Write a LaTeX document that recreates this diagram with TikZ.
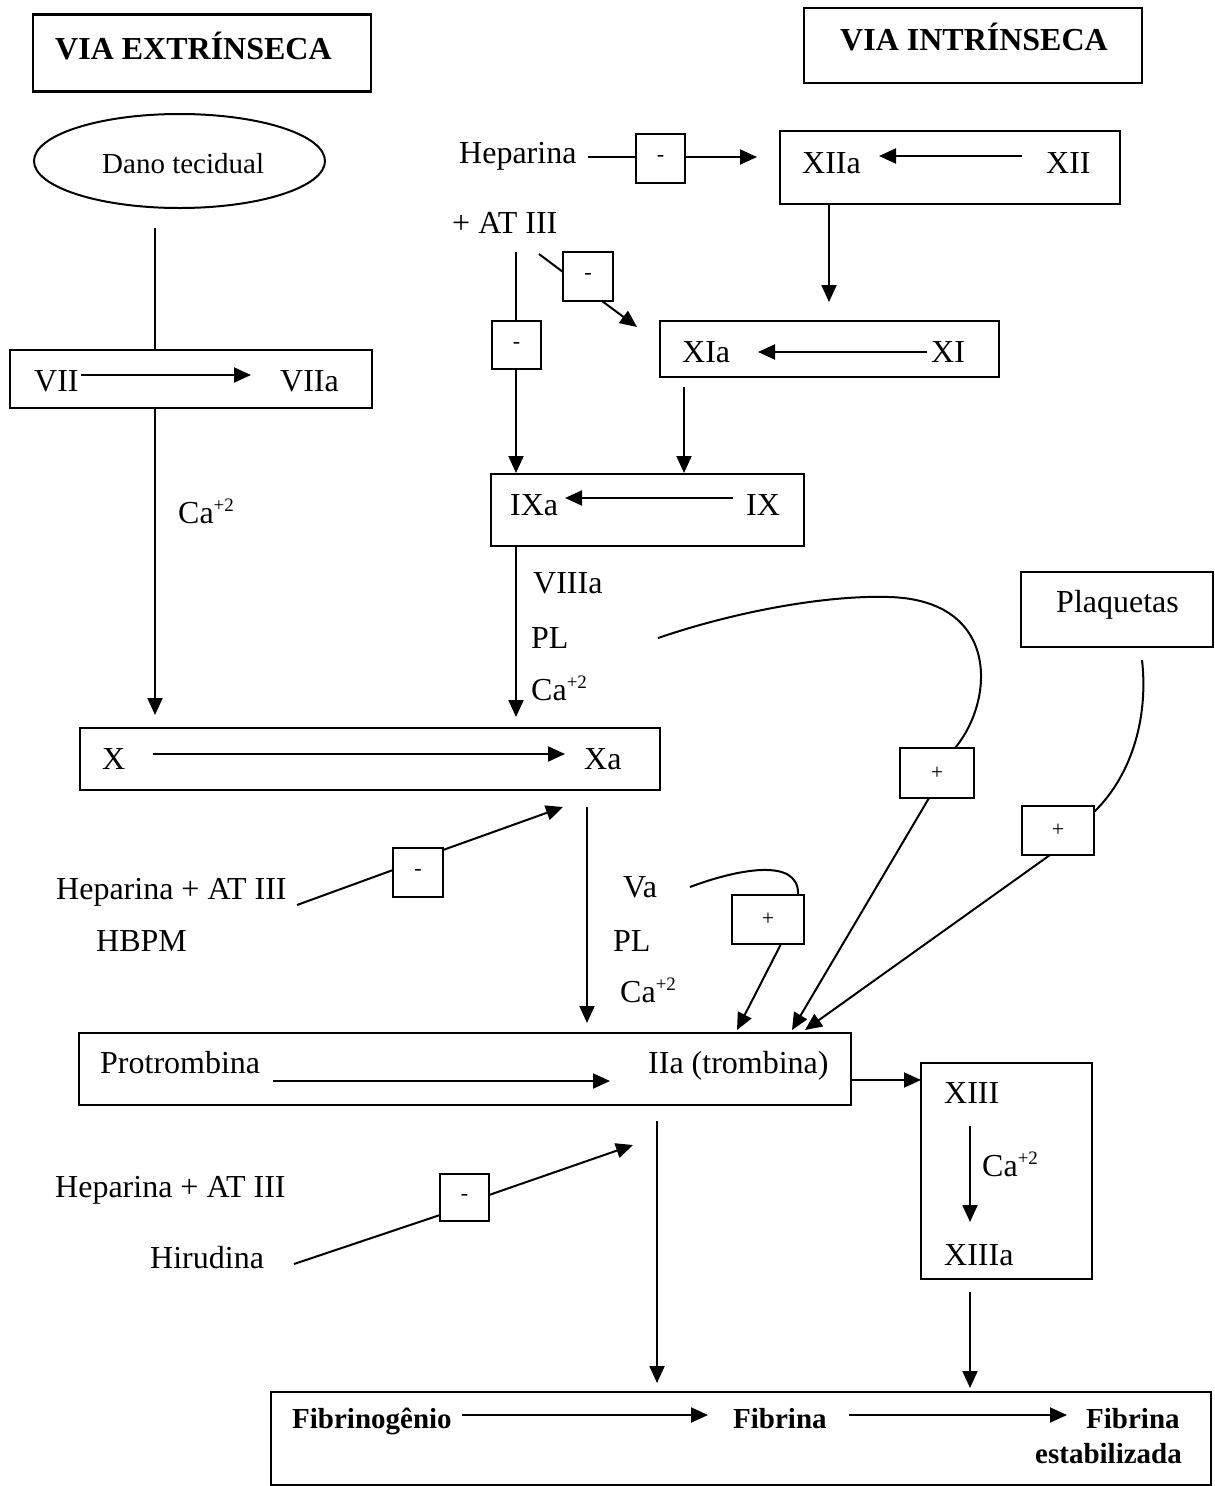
\documentclass[tikz,border=0pt]{standalone}
\usepackage{fontspec}
\setmainfont{Liberation Serif}
\usetikzlibrary{arrows.meta,shapes.geometric}

% calcium ion with its charge as a raised index
\newcommand\caion{Ca\raisebox{12pt}{\fontsize{19}{19}\selectfont +2}}

\begin{document}
\begin{tikzpicture}[x=1pt,y=-1pt,
  box/.style={draw, rectangle, line width=2.2pt, inner sep=0pt},
  signbox/.style={box, font=\fontsize{22}{24}\selectfont},
  conn/.style={line width=2pt},
  arr/.style={conn, -{Triangle[length=17pt,width=15pt]}},
  lbl/.style={inner sep=0pt, anchor=base west, font=\fontsize{32}{38}\selectfont},
  head/.style={lbl, font=\fontsize{32}{38}\selectfont\bfseries},
  bot/.style={lbl, font=\fontsize{29}{34}\selectfont\bfseries}]
\useasboundingbox (0,0) rectangle (1215,1486);

% ---------- headings ----------
\node[box, minimum width=338pt, minimum height=77pt] (extbox) at (202,53) {};
\node[head] (exttxt) at (55,59) {VIA EXTRÍNSECA};
\node[box, minimum width=338pt, minimum height=75pt] (intbox) at (973,45.5) {};
\node[head] (inttxt) at (840,50) {VIA INTRÍNSECA};

% ---------- extrinsic pathway ----------
\node[draw, ellipse, line width=2pt, minimum width=291pt, minimum height=94pt] (dano) at (179.5,161) {};
\node[lbl, font=\fontsize{29}{34}\selectfont] (danotxt) at (102,173) {Dano tecidual};

\node[box, minimum width=362pt, minimum height=58pt] (viibox) at (191,379) {};
\node[lbl] (vii) at (34,391) {VII};
\node[lbl] (viia) at (280,391) {VIIa};
\coordinate (viiA) at (81,375);
\coordinate (viiB) at (251,375);
\draw[arr] (viiA) -- (viiB);

\coordinate (d1) at (155,228);
\draw[conn] (d1) -- (d1 |- viibox.north);

\coordinate (v1) at (155,408);
\coordinate (v2) at (155,715);
\draw[arr] (v1) -- (v2);
\node[lbl] (ca1) at (178,523) {\caion};

\node[box, minimum width=580pt, minimum height=62pt] (xbox) at (370,759) {};
\node[lbl] (x) at (102,769) {X};
\node[lbl] (xa) at (584,769) {Xa};
\coordinate (xA) at (153,754);
\coordinate (xB) at (565,754);
\draw[arr] (xA) -- (xB);

% ---------- intrinsic pathway ----------
\node[lbl] (hep1) at (459,163) {Heparina};
\node[lbl] (at1) at (452,233) {+ AT III};
\node[signbox, minimum width=49pt, minimum height=49pt] (m1) at (660.5,158.5) {-};
\coordinate (h1) at (588,157);
\draw[conn] (h1) -- (h1 -| m1.west);
\coordinate (h2) at (757,157);
\draw[arr] (m1.east |- h2) -- (h2);

\node[box, minimum width=340pt, minimum height=73pt] (xiibox) at (950,167.5) {};
\node[lbl] (xiia) at (802,173) {XIIa};
\node[lbl] (xii) at (1046,173) {XII};
\coordinate (xiiA) at (1022,156);
\coordinate (xiiB) at (879,156);
\draw[arr] (xiiA) -- (xiiB);

\coordinate (xii1) at (829,302);
\draw[arr] (xii1 |- xiibox.south) -- (xii1);

\node[box, minimum width=339pt, minimum height=56pt] (xibox) at (829.5,349) {};
\node[lbl] (xia) at (682,362) {XIa};
\node[lbl] (xi) at (931,362) {XI};
\coordinate (xiA) at (927,352);
\coordinate (xiB) at (758,352);
\draw[arr] (xiA) -- (xiB);

\coordinate (xi1) at (684,387);
\coordinate (xi2) at (684,473);
\draw[arr] (xi1) -- (xi2);

% antithrombin inhibition of XI and IX activation
\node[signbox, minimum width=49pt, minimum height=48pt] (m2) at (516.5,345) {-};
\coordinate (a1) at (516,252);
\coordinate (a2) at (516,473);
\draw[conn] (a1) -- (a1 |- m2.north);
\draw[arr] (a2 |- m2.south) -- (a2);

\node[signbox, minimum width=50pt, minimum height=49pt] (m3) at (588,276.5) {-};
\coordinate (b1) at (539,254);
\coordinate (b2) at (563,272);
\coordinate (b3) at (602,301);
\coordinate (b4) at (637,327);
\draw[conn] (b1) -- (b2);
\draw[arr] (b3) -- (b4);

\node[box, minimum width=313pt, minimum height=72pt] (ixbox) at (647.5,510) {};
\node[lbl] (ixa) at (510,515) {IXa};
\node[lbl] (ix) at (746,515) {IX};
\coordinate (ixA) at (733,498);
\coordinate (ixB) at (565,498);
\draw[arr] (ixA) -- (ixB);

\coordinate (ix1) at (516,717);
\draw[arr] (ix1 |- ixbox.south) -- (ix1);
\node[lbl] (viiia) at (533,593) {VIIIa};
\node[lbl] (pl1) at (531,648) {PL};
\node[lbl] (ca2) at (531,700) {\caion};

% ---------- platelets and positive feedback ----------
\node[box, minimum width=192pt, minimum height=75pt] (plaq) at (1117,609.5) {};
\node[lbl] (plaqtxt) at (1056,612) {Plaquetas};

\node[signbox, minimum width=74pt, minimum height=50pt] (p1) at (937,773) {+};
\node[signbox, minimum width=72pt, minimum height=49pt] (p2) at (1058,830.5) {+};
\node[signbox, minimum width=72pt, minimum height=49pt] (p3) at (768,919.5) {+};

\coordinate (c1) at (658,638);
\coordinate (c2) at (889,597);
\coordinate (c3) at (955,748);
\draw[conn] (c1) .. controls (740,610) and (830,595) .. (c2)
                 .. controls (1000,600) and (995,700) .. (c3);

\coordinate (q1) at (1142,660);
\coordinate (q2) at (1094,812);
\draw[conn] (q1) .. controls (1148,712) and (1135,772) .. (q2);

\coordinate (r1) at (690,887);
\coordinate (r2) at (798,895);
\draw[conn] (r1) .. controls (735,870) and (800,856) .. (r2);

\coordinate (t1) at (737,1030);
\coordinate (t2) at (792,1030);
\coordinate (t3) at (805,1030);
\coordinate (p1o) at (929,798);
\coordinate (p2o) at (1050,855);
\coordinate (p3o) at (781,944);
\draw[arr] (p3o) -- (t1);
\draw[arr] (p1o) -- (t2);
\draw[arr] (p2o) -- (t3);

% ---------- inhibition of Xa ----------
\node[lbl] (hep2) at (56,899) {Heparina + AT III};
\node[lbl] (hbpm) at (96,951) {HBPM};
\node[signbox, minimum width=50pt, minimum height=49pt] (m4) at (418,872.5) {-};
\coordinate (e1) at (297,905);
\coordinate (e2) at (393,870);
\coordinate (e3) at (443,850);
\coordinate (e4) at (563,807);
\draw[conn] (e1) -- (e2);
\draw[arr] (e3) -- (e4);

\coordinate (xa1) at (587,807);
\coordinate (xa2) at (587,1023);
\draw[arr] (xa1) -- (xa2);
\node[lbl] (va) at (623,897) {Va};
\node[lbl] (pl2) at (613,951) {PL};
\node[lbl] (ca3) at (620,1002) {\caion};

% ---------- prothrombin ----------
\node[box, minimum width=772pt, minimum height=72pt] (protbox) at (465,1069) {};
\node[lbl] (prot) at (100,1073) {Protrombina};
\node[lbl] (iia) at (648,1073) {IIa (trombina)};
\coordinate (pA) at (273,1081);
\coordinate (pB) at (610,1081);
\draw[arr] (pA) -- (pB);

\node[box, minimum width=171pt, minimum height=216pt] (xiiibox) at (1006.5,1171) {};
\coordinate (pr1) at (921,1080);
\draw[arr] (protbox.east |- pr1) -- (pr1);
\node[lbl] (xiii) at (944,1103) {XIII};
\node[lbl] (xiiia) at (944,1265) {XIIIa};
\node[lbl] (ca4) at (982,1176) {\caion};
\coordinate (xiiiA) at (970,1126);
\coordinate (xiiiB) at (970,1222);
\draw[arr] (xiiiA) -- (xiiiB);

% ---------- inhibition of thrombin ----------
\node[lbl] (hep3) at (55,1197) {Heparina + AT III};
\node[lbl] (hir) at (150,1268) {Hirudina};
\node[signbox, minimum width=49pt, minimum height=47pt] (m5) at (464.5,1197.5) {-};
\coordinate (f1) at (294,1264);
\coordinate (f2) at (440,1215);
\coordinate (f3) at (489,1195);
\coordinate (f4) at (633,1145);
\draw[conn] (f1) -- (f2);
\draw[arr] (f3) -- (f4);

% ---------- fibrin formation ----------
\node[box, minimum width=940pt, minimum height=93pt] (fibbox) at (741,1438.5) {};
\coordinate (g1) at (657,1121);
\coordinate (g2) at (657,1383);
\draw[arr] (g1) -- (g2);
\coordinate (k1) at (970,1292);
\coordinate (k2) at (970,1388);
\draw[arr] (k1) -- (k2);

\node[bot] (fgen) at (292,1428) {Fibrinogênio};
\node[bot] (fib) at (733,1428) {Fibrina};
\node[bot] (fib2) at (1086,1428) {Fibrina};
\node[bot] (estab) at (1035,1463) {estabilizada};
\coordinate (fA) at (462,1415);
\coordinate (fB) at (708,1415);
\coordinate (fC) at (849,1415);
\coordinate (fD) at (1067,1415);
\draw[arr] (fA) -- (fB);
\draw[arr] (fC) -- (fD);
\end{tikzpicture}
\end{document}
